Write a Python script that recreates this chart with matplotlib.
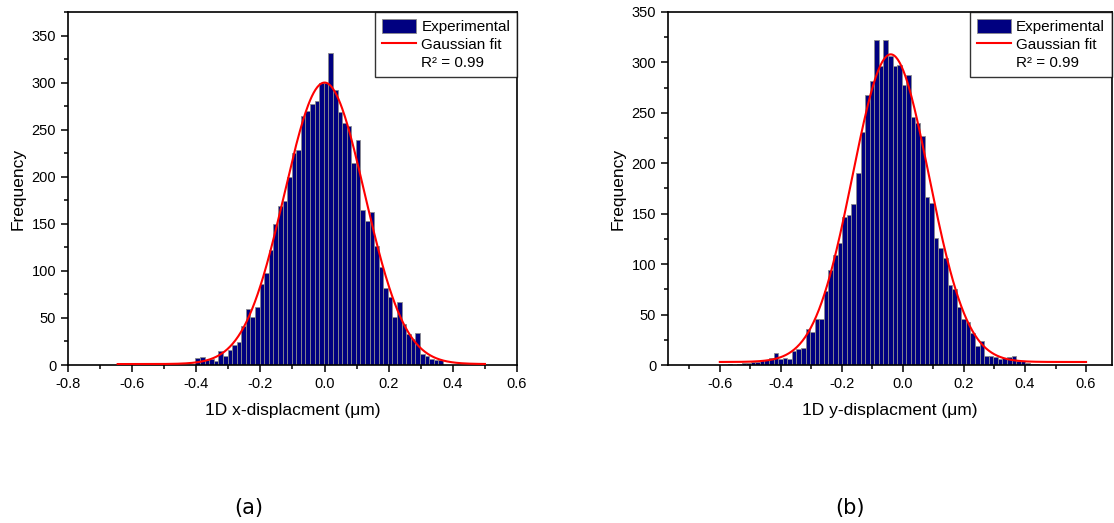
import numpy as np
import matplotlib
matplotlib.use('Agg')
import matplotlib.pyplot as plt
from matplotlib.patches import Patch
from matplotlib.lines import Line2D
from matplotlib.ticker import MultipleLocator, FuncFormatter

plt.rcParams['font.family'] = ['Liberation Sans', 'DejaVu Sans']

# histogram (a): x-displacement
x_start = -0.4025
x_bin = 1 / 70
x_counts = [7, 9, 5, 6, 4, 15, 10, 16, 21, 24, 41,
            60, 51, 62, 86, 98, 122, 150, 169, 174, 200,
            225, 228, 264, 270, 277, 280, 300, 300, 331,
            292, 269, 257, 254, 215, 239, 165, 153,
            163, 126, 104, 82, 72, 51, 67, 44, 33, 28, 34, 12, 10, 6, 5, 5]

# histogram (b): y-displacement
y_start = -0.574
y_bin = 0.015
y_counts = [1, 0, 1, 2, 2, 3, 3, 5, 5, 7, 12, 6, 7, 6, 14, 16, 17, 36, 33,
            46, 46, 73, 94, 109, 121, 147, 149, 160,
            190, 231, 268, 282, 322, 296, 322, 306, 296, 297, 278, 288, 246, 240, 227,
            167, 161, 126, 116, 106, 79, 75, 58, 46, 43, 32, 19, 24, 9, 9, 8, 6, 7,
            8, 9, 4, 4, 2, 1, 1]

# gaussian fit parameters: centre, sigma, amplitude, offset, x-range
fit_x = dict(xc=0.0, w=0.125, A=299, y0=1, lo=-0.645, hi=0.50)
fit_y = dict(xc=-0.04, w=0.125, A=305, y0=3, lo=-0.60, hi=0.60)

fig = plt.figure(figsize=(11.14, 5.23), dpi=100)
ax1 = fig.add_axes([0.0610, 0.3021, 0.4031, 0.6750])
ax2 = fig.add_axes([0.5996, 0.3021, 0.3986, 0.6750])


def draw(ax, start, width, counts, fit, xlim, ylim, xlabel):
    edges = start + width * np.arange(len(counts))
    ax.bar(edges, counts, width=width, align='edge', color='#000080',
           edgecolor='#8c8c8c', linewidth=0.6, zorder=2)
    xx = np.linspace(fit['lo'], fit['hi'], 400)
    yy = fit['y0'] + fit['A'] * np.exp(-(xx - fit['xc']) ** 2 / (2 * fit['w'] ** 2))
    ax.plot(xx, yy, color='red', lw=1.5, zorder=3)
    ax.set_xlim(*xlim)
    ax.set_ylim(*ylim)
    ax.xaxis.set_major_locator(MultipleLocator(0.2))
    ax.xaxis.set_minor_locator(MultipleLocator(0.1))
    ax.yaxis.set_major_locator(MultipleLocator(50))
    ax.yaxis.set_minor_locator(MultipleLocator(25))
    ax.xaxis.set_major_formatter(FuncFormatter(lambda v, p: f'{v:.1f}'.replace('-0.0', '0.0')))
    ax.tick_params(which='major', direction='out', length=5, width=1.1, labelsize=10.5,
                   top=False, right=False)
    ax.tick_params(which='minor', direction='out', length=3, width=1.1, top=False, right=False)
    for s in ax.spines.values():
        s.set_linewidth(1.2)
    ax.set_xlabel(xlabel, fontsize=12.5, labelpad=9)
    ax.set_ylabel('Frequency', fontsize=12.5, labelpad=4)
    handles = [Patch(facecolor='#000080', edgecolor='#8c8c8c', linewidth=0.6),
               Line2D([], [], color='red', lw=1.5),
               Line2D([], [], color='none')]
    leg = ax.legend(handles, ['Experimental', 'Gaussian fit', 'R² = 0.99'],
                    loc='upper right', fontsize=11, frameon=True, fancybox=False,
                    edgecolor='black', borderaxespad=0, handlelength=2.2,
                    handleheight=1.0, labelspacing=0.2, borderpad=0.45,
                    handletextpad=0.35)
    leg.get_frame().set_linewidth(1.0)


draw(ax1, x_start, x_bin, x_counts, fit_x, (-0.8, 0.6), (0, 375), '1D x-displacment (μm)')
draw(ax2, y_start, y_bin, y_counts, fit_y, (-0.77, 0.685), (0, 350), '1D y-displacment (μm)')

fig.text(0.2235, 0.018, '(a)', fontsize=15, family='DejaVu Sans', ha='center')
fig.text(0.7630, 0.018, '(b)', fontsize=15, family='DejaVu Sans', ha='center')

fig.savefig('out.png', dpi=100)
